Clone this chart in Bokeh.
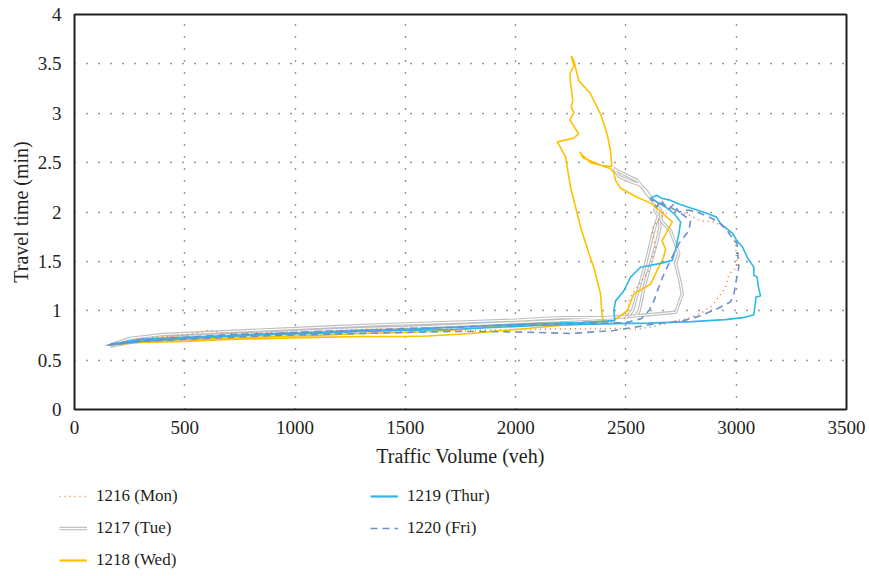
from bokeh.plotting import figure
from bokeh.models import Range1d, FixedTicker, Legend, LegendItem
from bokeh.embed import file_html
from bokeh.resources import INLINE

# ---------------- data ----------------
x_ticks = [0, 500, 1000, 1500, 2000, 2500, 3000, 3500]
y_ticks = [0, 0.5, 1, 1.5, 2, 2.5, 3, 3.5, 4]

labels = ["1216 (Mon)", "1217 (Tue)", "1218 (Wed)", "1219 (Thur)", "1220 (Fri)"]

mon_x = [140, 250, 400, 600, 800, 1000, 1200, 1400, 1600, 1800, 2000, 2200, 2350, 2450, 2540,
         2620, 2700, 2790, 2850, 2890, 2921, 2952, 2967, 3004, 2997, 2982, 2944, 2899, 2838,
         2778, 2702, 2660, 2619, 2634, 2604, 2574, 2536, 2513, 2513, 2480,
         2300, 2100, 1900, 1700, 1500, 1300, 1100, 900, 700, 600, 500, 300, 160]
mon_y = [0.65, 0.68, 0.71, 0.73, 0.75, 0.76, 0.77, 0.78, 0.79, 0.80, 0.81, 0.815, 0.82, 0.82, 0.81,
         0.84, 0.88, 0.93, 0.99, 1.05, 1.14, 1.24, 1.37, 1.44, 1.68, 1.78, 1.85, 1.90, 1.91,
         1.98, 2.02, 1.95, 1.83, 1.64, 1.41, 1.31, 1.20, 1.10, 0.97, 0.88,
         0.86, 0.85, 0.84, 0.83, 0.82, 0.81, 0.79, 0.78, 0.77, 0.80, 0.75, 0.72, 0.66]

tue_x = [160, 300, 500, 700, 900, 1100, 1300, 1500, 1700, 1900, 2100, 2300, 2450, 2600, 2726,
         2755, 2745, 2725, 2740, 2702, 2660, 2657, 2597, 2551, 2476, 2444,
         2470, 2530, 2560, 2590, 2620, 2640, 2630, 2648,
         2655, 2640, 2625, 2610, 2595, 2580, 2570, 2560, 2545,
         2400, 2200, 2000, 1800, 1600, 1400, 1200, 1000, 800, 600, 400, 250, 170]
tue_y = [0.64, 0.70, 0.74, 0.76, 0.78, 0.80, 0.82, 0.83, 0.85, 0.87, 0.89, 0.91, 0.93, 0.96, 0.985,
         1.17, 1.30, 1.48, 1.58, 1.81, 1.91, 2.02, 2.18, 2.32, 2.40, 2.44,
         2.36, 2.30, 2.28, 2.22, 2.13, 2.08, 2.01, 1.96,
         1.85, 1.70, 1.58, 1.46, 1.34, 1.22, 1.10, 1.00, 0.95,
         0.93, 0.93, 0.905, 0.89, 0.875, 0.86, 0.84, 0.82, 0.80, 0.78, 0.76, 0.72, 0.66]
tue_b_x = [2500, 2530, 2545, 2560, 2575, 2590, 2605, 2620, 2635, 2648]
tue_b_y = [0.93, 1.00, 1.12, 1.24, 1.36, 1.48, 1.62, 1.76, 1.88, 1.96]

wed_x = [150, 300, 500, 700, 900, 1100, 1300, 1500, 1600, 1800, 2000, 2200, 2397,
         2390, 2385, 2354, 2332, 2294, 2249, 2226, 2189, 2264, 2286, 2246, 2264, 2252,
         2259, 2249, 2246, 2264, 2252,
         2264, 2286, 2339, 2385, 2415, 2430, 2436,
         2390, 2340, 2300, 2291, 2305, 2350, 2400, 2430, 2445, 2453, 2476, 2551, 2612, 2660,
         2710, 2664, 2680, 2670, 2648, 2612, 2535, 2506, 2444,
         2300, 2100, 1900, 1700, 1500, 1300, 1100, 900, 700, 500, 300, 160]
wed_y = [0.65, 0.68, 0.69, 0.71, 0.72, 0.73, 0.74, 0.74, 0.745, 0.77, 0.81, 0.85, 0.88,
         1.00, 1.17, 1.44, 1.58, 1.85, 2.25, 2.56, 2.71, 2.75, 2.79, 2.93, 3.01, 3.06,
         3.13, 3.30, 3.40, 3.48, 3.58,
         3.53, 3.33, 3.20, 2.99, 2.79, 2.62, 2.46,
         2.47, 2.50, 2.58, 2.61, 2.55, 2.51, 2.46, 2.44, 2.40, 2.32, 2.24, 2.15, 2.09, 2.00,
         1.90, 1.71, 1.62, 1.54, 1.44, 1.27, 1.17, 1.00, 0.90,
         0.88, 0.87, 0.84, 0.80, 0.78, 0.77, 0.75, 0.74, 0.72, 0.71, 0.69, 0.655]

thu_x = [150, 300, 500, 700, 900, 1100, 1300, 1500, 1700, 1900, 2100, 2300, 2450, 2600, 2800,
         2950, 3030, 3080,
         3085, 3090, 3110, 3100, 3095, 3080, 3080, 3050, 3030, 3000, 2985, 2930, 2910, 2850,
         2780, 2740, 2700, 2660, 2640, 2610,
         2680, 2720, 2748, 2740, 2725, 2710, 2657, 2566, 2521, 2490, 2453, 2445, 2450,
         2300, 2100, 1900, 1700, 1500, 1300, 1100, 900, 700, 500, 300, 160]
thu_y = [0.65, 0.69, 0.72, 0.74, 0.76, 0.77, 0.79, 0.80, 0.81, 0.83, 0.85, 0.86, 0.87, 0.875, 0.89,
         0.91, 0.93, 0.96,
         1.05, 1.14, 1.15, 1.25, 1.34, 1.36, 1.44, 1.54, 1.64, 1.72, 1.78, 1.88, 1.95, 2.00,
         2.05, 2.08, 2.12, 2.14, 2.17, 2.14,
         2.05, 1.98, 1.90, 1.78, 1.62, 1.51, 1.48, 1.44, 1.34, 1.20, 1.10, 1.00, 0.90,
         0.88, 0.87, 0.85, 0.83, 0.81, 0.80, 0.78, 0.77, 0.75, 0.73, 0.71, 0.66]

fri_x = [150, 300, 500, 700, 900, 1100, 1300, 1500, 1700, 1900, 2100, 2250, 2445, 2612, 2762,
         2838, 2914, 2974, 2990, 2997, 3012, 3004, 2990, 2960, 2920, 2876, 2823, 2780, 2740,
         2717, 2690, 2660, 2640, 2612,
         2700, 2760, 2793, 2785, 2740, 2702, 2672, 2649, 2627, 2604, 2570, 2500,
         2300, 2100, 1900, 1700, 1500, 1300, 1100, 900, 700, 500, 300, 160]
fri_y = [0.65, 0.69, 0.71, 0.73, 0.75, 0.76, 0.77, 0.78, 0.79, 0.79, 0.78, 0.77, 0.80, 0.86, 0.90,
         0.95, 1.02, 1.09, 1.17, 1.27, 1.44, 1.68, 1.71, 1.81, 1.90, 1.95, 2.00, 2.02, 2.00,
         2.08, 2.02, 2.12, 2.05, 2.13,
         2.05, 1.97, 1.91, 1.81, 1.68, 1.51, 1.37, 1.24, 1.10, 1.00, 0.92, 0.88,
         0.87, 0.86, 0.85, 0.83, 0.82, 0.80, 0.79, 0.77, 0.76, 0.73, 0.70, 0.66]

# ---------------- styling ----------------
FONT = "Liberation Serif"
INK = "#231f20"
C_MON = "#ED7D31"
C_TUE = "#BFBFBF"
C_WED = "#FFC000"
C_THU = "#2FB7EA"
C_FRI = "#7090CC"

W = 866
H_MAIN = 472
H_LEG = 100

p = figure(width=W, height=H_MAIN, x_range=Range1d(0, 3500), y_range=Range1d(0, 4),
           output_backend="svg", toolbar_location=None,
           min_border_left=74, min_border_right=20, min_border_top=14, min_border_bottom=63)

p.outline_line_color = INK
p.outline_line_width = 2
p.background_fill_color = "white"
p.border_fill_color = "white"

for ax in (p.xaxis[0], p.yaxis[0]):
    ax.axis_line_color = None
    ax.major_tick_line_color = None
    ax.minor_tick_line_color = None
    ax.major_label_text_font = FONT
    ax.major_label_text_font_size = "19px"
    ax.major_label_text_color = INK
    ax.axis_label_text_font = FONT
    ax.axis_label_text_font_size = "20px"
    ax.axis_label_text_font_style = "normal"
    ax.axis_label_text_color = INK

p.xaxis.ticker = FixedTicker(ticks=x_ticks)
p.yaxis.ticker = FixedTicker(ticks=y_ticks)
p.xaxis.axis_label = "Traffic Volume (veh)"
p.yaxis.axis_label = "Travel time (min)"
p.xaxis.major_label_standoff = 5
p.yaxis.major_label_standoff = 7
p.xaxis.axis_label_standoff = 8
p.yaxis.axis_label_standoff = 3

for g in (p.xgrid[0], p.ygrid[0]):
    g.grid_line_color = "#333333"
    g.grid_line_dash = "1 11"
    g.grid_line_width = 1.4

# ---------------- series ----------------
def tue_style(fig, xs, ys):
    a = fig.line(xs, ys, line_color=C_TUE, line_width=3.4)
    b = fig.line(xs, ys, line_color="white", line_width=1.1)
    return a, b

def draw_all(fig):
    t1, t2 = tue_style(fig, tue_x, tue_y)
    tue_style(fig, tue_b_x, tue_b_y)
    m = fig.line(mon_x, mon_y, line_color=C_MON, line_width=1.6, line_dash="1 4")
    w = fig.line(wed_x, wed_y, line_color=C_WED, line_width=1.6)
    t = fig.line(thu_x, thu_y, line_color=C_THU, line_width=1.6)
    f = fig.line(fri_x, fri_y, line_color=C_FRI, line_width=1.6, line_dash="7 5")
    return m, (t1, t2), w, t, f

draw_all(p)

# ---------------- legend strip (same series, ranges kept out of view) ----------------
q = figure(width=W, height=H_LEG, x_range=Range1d(-2, -1), y_range=Range1d(-2, -1),
           output_backend="svg", toolbar_location=None,
           x_axis_type=None, y_axis_type=None,
           min_border_left=0, min_border_right=0, min_border_top=0, min_border_bottom=0)
q.outline_line_color = None
q.xgrid.visible = False
q.ygrid.visible = False
q.background_fill_color = "white"
q.border_fill_color = "white"

l_mon, l_tue, l_wed, l_thu, l_fri = draw_all(q)
l_wed.glyph.line_width = 2.2
l_thu.glyph.line_width = 2.2

items = [
    LegendItem(label=labels[0], renderers=[l_mon]),
    LegendItem(label=labels[1], renderers=list(l_tue)),
    LegendItem(label=labels[2], renderers=[l_wed]),
    LegendItem(label=labels[3], renderers=[l_thu]),
    LegendItem(label=labels[4], renderers=[l_fri]),
]
legend = Legend(items=items, ncols=2, location=(59, 2),
                glyph_width=28, glyph_height=20, label_height=20, label_standoff=9,
                label_width=262, spacing=12, padding=0, margin=0,
                label_text_font=FONT, label_text_font_size="17px", label_text_color=INK,
                background_fill_alpha=0, border_line_alpha=0)
q.add_layout(legend, "center")

open("out.html", "w").write(file_html([p, q], INLINE))
